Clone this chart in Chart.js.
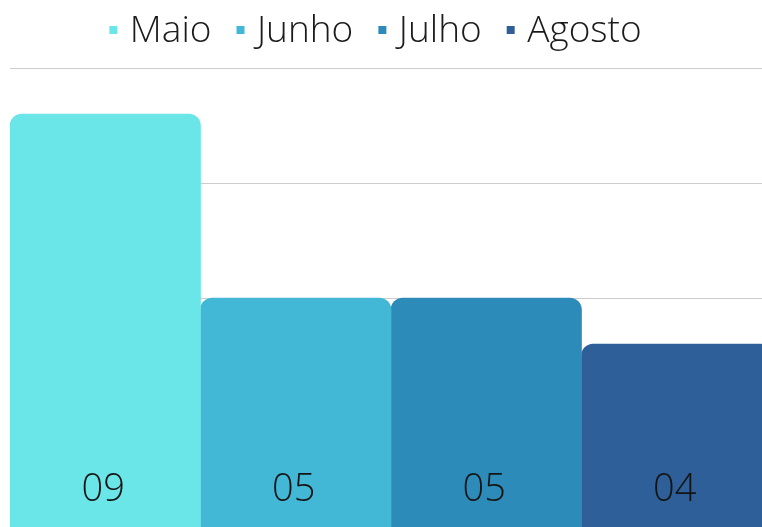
<!DOCTYPE html>
<html lang="pt">
<head>
<meta charset="utf-8">
<title>Maio - Agosto</title>
<script src="https://cdn.jsdelivr.net/npm/chart.js@4/dist/chart.umd.min.js"></script>
<style>
    html, body { margin: 0; padding: 0; overflow: hidden; background: #fff; }
    #wrap { position: absolute; left: 0; top: 0; width: 772px; height: 528px; }
</style>
</head>
<body>
<div id="wrap"><canvas id="grafico"></canvas></div>
<script>
const meses = ['Maio', 'Junho', 'Julho', 'Agosto'];
const valores = [9, 5, 5, 4];
const cores = ['#6ae6e8', '#42b8d6', '#2d8bba', '#2e5f98'];

(function (window) {
    'use strict';

    const Chart = window.Chart;
    const canvas = document.getElementById('grafico');
    if (!Chart || !canvas) {
        console.error('[grafico] Chart.js non chargé.');
        return;
    }

    const FONTE = '"Open Sans", "Noto Sans", sans-serif';
    const BOX = 17;

    // petit carré de légende, collé au texte
    function swatch(color) {
        const c = document.createElement('canvas');
        c.width = BOX + 16;
        c.height = 11;
        const ctx = c.getContext('2d');
        ctx.fillStyle = color;
        ctx.fillRect(c.width - 10, 0, 8, 8);
        return c;
    }

    const legendaExtra = {
        id: 'legendaExtra',
        beforeInit: function (chart) {
            const fit = chart.legend.fit;
            chart.legend.fit = function () {
                fit.call(this);
                this.height += 8;
            };
        },
        afterLayout: function (chart) {
            // la légende est un peu décalée vers la gauche
            chart.legend.left -= 23;
            chart.legend.right -= 23;
        },
    };

    const rotulos = {
        id: 'rotulos',
        afterDatasetsDraw: function (chart) {
            const ctx = chart.ctx;
            ctx.save();
            ctx.font = '300 38px ' + FONTE;
            ctx.fillStyle = '#141414';
            ctx.textAlign = 'center';
            ctx.textBaseline = 'middle';
            chart.data.datasets.forEach(function (ds, i) {
                const bar = chart.getDatasetMeta(i).data[0];
                if (!bar) {
                    return;
                }
                const txt = String(ds.data[0]).padStart(2, '0');
                ctx.fillText(txt, bar.x - 2, chart.chartArea.bottom - 38);
            });
            ctx.restore();
        },
    };

    const datasets = meses.map(function (m, i) {
        return {
            label: m,
            data: [valores[i]],
            backgroundColor: cores[i],
            borderWidth: 0,
            borderRadius: 12,
            borderSkipped: 'bottom',
        };
    });

    new Chart(canvas, {
        type: 'bar',
        data: {
            labels: [''],
            datasets: datasets,
        },
        options: {
            responsive: true,
            maintainAspectRatio: false,
            animation: false,
            categoryPercentage: 1,
            barPercentage: 1,
            layout: { padding: { left: 10, right: 0, top: 3, bottom: 0 } },
            plugins: {
                legend: {
                    position: 'top',
                    labels: {
                        usePointStyle: true,
                        boxWidth: BOX,
                        boxHeight: 8,
                        padding: 10,
                        color: '#1b1b1b',
                        font: { family: FONTE, size: 37, weight: '300' },
                        generateLabels: function (chart) {
                            const items = Chart.defaults.plugins.legend.labels.generateLabels(chart);
                            items.forEach(function (item, i) {
                                item.pointStyle = swatch(cores[i]);
                            });
                            return items;
                        },
                    },
                },
                tooltip: { enabled: false },
            },
            scales: {
                x: { display: false },
                y: {
                    min: 0,
                    max: 10,
                    ticks: { display: false, stepSize: 2.5 },
                    border: { display: false },
                    grid: { color: '#cccccc', lineWidth: 1, drawTicks: false },
                },
            },
        },
        plugins: [legendaExtra, rotulos],
    });
})(window);
</script>
</body>
</html>
